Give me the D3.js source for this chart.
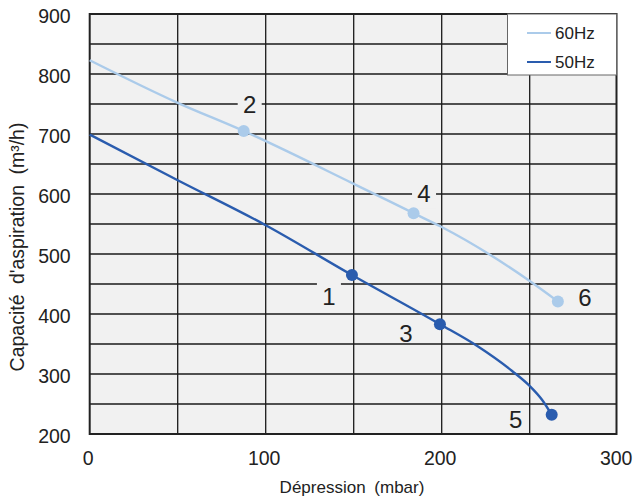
<!DOCTYPE html>
<html><head><meta charset="utf-8">
<script src="https://cdn.jsdelivr.net/npm/d3@7"></script>
<style>body{margin:0;background:#fff}</style>
</head><body>
<svg id="c" width="634" height="500"></svg>
<script>
const xTicks = [0, 100, 200, 300];
const yTicks = [200, 300, 400, 500, 600, 700, 800, 900];
const series60 = [[0,823],[50,752],[87.5,705],[150,617],[184,568],[200,545],[250,455],[266,421]];
const series50 = [[0,699],[50,623],[100,548],[149,465],[199,383],[220,347],[240,305],[250,280],[257,257],[262.5,232]];
const markers60 = [[87.5,705],[184,568],[266,421]];
const markers50 = [[149,465],[199,383],[262.5,232]];
const pointLabels = [
  {t:"2", x:87.5, y:705, dx:6, dy:-27, box:true},
  {t:"4", x:184, y:568, dx:10.5, dy:-20, box:true},
  {t:"6", x:266, y:421, dx:27, dy:-4, box:false},
  {t:"1", x:149, y:465, dx:-23, dy:21, box:true},
  {t:"3", x:199, y:383, dx:-34, dy:9, box:false},
  {t:"5", x:262.5, y:232, dx:-36, dy:5, box:true}
];
const legendItems = [{name:"60Hz", color:"#abcbea"}, {name:"50Hz", color:"#2a5cae"}];

const svg = d3.select("#c");
const m = {l:89.7, t:14, r:616.5, b:434};
const x = d3.scaleLinear().domain([0,300]).range([m.l, m.r+1.2]);
const y = d3.scaleLinear().domain([200,900]).range([m.b, m.t]);
const font = "Liberation Sans, Arial, sans-serif";

svg.append("rect").attr("x", m.l).attr("y", m.t).attr("width", m.r-m.l).attr("height", m.b-m.t).attr("fill", "#f1f1f1");

const g = svg.append("g");
d3.range(250, 900, 50).forEach(v => {
  g.append("line").attr("x1", m.l).attr("x2", m.r).attr("y1", y(v)).attr("y2", y(v)).attr("stroke", "#1a1a1a").attr("stroke-width", 1.3);
});
d3.range(50, 300, 50).forEach(v => {
  g.append("line").attr("y1", m.t).attr("y2", m.b).attr("x1", x(v)).attr("x2", x(v)).attr("stroke", "#1a1a1a").attr("stroke-width", 1.3);
});

pointLabels.forEach(p => {
  const cx = x(p.x)+p.dx, cy = y(p.y)+p.dy;
  if (p.box) svg.append("rect").attr("x", cx-12).attr("y", cy-14).attr("width", 24).attr("height", 29).attr("fill", "#f1f1f1");
  svg.append("text").attr("x", cx).attr("y", cy+8.5).attr("text-anchor", "middle")
    .attr("font-family", font).attr("font-size", 24).attr("fill", "#222").text(p.t);
});

svg.append("rect").attr("x", m.l).attr("y", m.t).attr("width", m.r-m.l).attr("height", m.b-m.t).attr("fill", "none").attr("stroke", "#222").attr("stroke-width", 2);

const line = d3.line().x(d => x(d[0])).y(d => y(d[1])).curve(d3.curveMonotoneX);
svg.append("path").attr("d", line(series60)).attr("fill", "none").attr("stroke", legendItems[0].color).attr("stroke-width", 2.4);
svg.append("path").attr("d", line(series50)).attr("fill", "none").attr("stroke", legendItems[1].color).attr("stroke-width", 2.4);
markers60.forEach(d => svg.append("circle").attr("cx", x(d[0])).attr("cy", y(d[1])).attr("r", 6).attr("fill", legendItems[0].color));
markers50.forEach(d => svg.append("circle").attr("cx", x(d[0])).attr("cy", y(d[1])).attr("r", 6).attr("fill", legendItems[1].color));

const xAxis = d3.axisBottom(x).tickValues(xTicks).tickSize(0).tickPadding(17).tickFormat(d3.format("d"));
const xa = svg.append("g").attr("transform", `translate(-2,${m.b})`).call(xAxis);
xa.select(".domain").remove();
xa.selectAll("text").attr("font-family", font).attr("font-size", 19.5).attr("fill", "#222");
const yAxis = d3.axisLeft(y).tickValues(yTicks).tickSize(0).tickPadding(19).tickFormat(d3.format("d"));
const ya = svg.append("g").attr("transform", `translate(${m.l},2)`).call(yAxis);
ya.select(".domain").remove();
ya.selectAll("text").attr("font-family", font).attr("font-size", 19.5).attr("fill", "#222");

svg.append("text").attr("x", 352).attr("y", 492.5).attr("text-anchor", "middle").attr("font-family", font).attr("font-size", 17).attr("word-spacing", 4).attr("fill", "#222").text("Dépression (mbar)");
svg.append("text").attr("transform", "translate(24,247) rotate(-90)").attr("text-anchor", "middle").attr("font-family", font).attr("font-size", 19.5).attr("word-spacing", 5).attr("fill", "#222")
  .text("Capacité d'aspiration (m³/h)");

const lg = svg.append("g");
lg.append("rect").attr("x", 507.5).attr("y", 14).attr("width", 109).attr("height", 61).attr("fill", "#fff").attr("stroke", "#666").attr("stroke-width", 1);
legendItems.forEach((it, i) => {
  const ly = 33 + i*29;
  lg.append("line").attr("x1", 527).attr("x2", 551).attr("y1", ly).attr("y2", ly).attr("stroke", it.color).attr("stroke-width", 2);
  lg.append("text").attr("x", 555).attr("y", ly+6).attr("font-family", font).attr("font-size", 17).attr("fill", "#222").text(it.name);
});
</script>
</body></html>
